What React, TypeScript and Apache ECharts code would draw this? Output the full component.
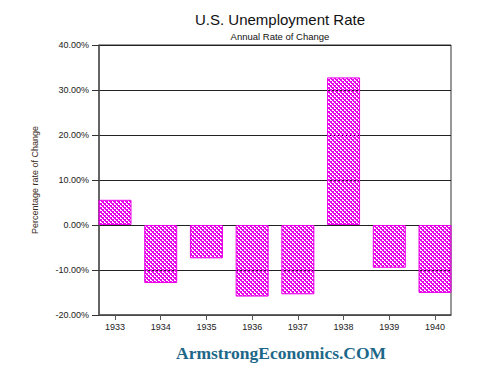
import React, { useEffect, useRef } from "react";
import * as echarts from "echarts";

const years = [1933, 1934, 1935, 1936, 1937, 1938, 1939, 1940];
const changes = [5.6, -12.9, -7.4, -15.9, -15.4, 32.8, -9.5, -15.1];
const yTicks = { min: -20, max: 40, interval: 10 };
const titleText = "U.S. Unemployment Rate";
const subtitleText = "Annual Rate of Change";
const yAxisName = "Percentage rate of Change";
const watermark = "ArmstrongEconomics.COM";

function makeHatch(): string {
  const c = document.createElement("canvas");
  c.width = 4;
  c.height = 4;
  const ctx = c.getContext("2d")!;
  ctx.clearRect(0, 0, 4, 4);
  ctx.fillStyle = "#e800e8";
  for (let x = 0; x < 4; x++) {
    for (let y = 0; y < 4; y++) {
      const d = (((x - y) % 4) + 4) % 4;
      const s = (x + y) % 4;
      if (d < 2 || s === 0) ctx.fillRect(x, y, 1, 1);
    }
  }
  return c.toDataURL();
}

export default function App() {
  const ref = useRef<HTMLDivElement>(null);
  useEffect(() => {
    if (!ref.current) return;
    const chart = echarts.init(ref.current, undefined, { renderer: "svg" });
    const hatch = makeHatch();
    chart.setOption({
      animation: false,
      backgroundColor: "#ffffff",
      title: [
        {
          text: titleText,
          left: 275,
          top: 7,
          textAlign: "center",
          textStyle: { fontFamily: "Liberation Sans", fontSize: 15, fontWeight: "normal", color: "#111" },
        },
        {
          text: subtitleText,
          left: 275,
          top: 26,
          textAlign: "center",
          textStyle: { fontFamily: "Liberation Sans", fontSize: 9.5, fontWeight: "normal", color: "#111" },
        },
      ],
      grid: {
        left: 99,
        top: 45,
        right: 43,
        bottom: 67,
        show: true,
        borderColor: "#333",
        borderWidth: 1,
        backgroundColor: "transparent",
      },
      xAxis: {
        type: "value",
        min: 1932.65,
        max: 1940.35,
        splitLine: { show: false },
        axisLine: { show: true, onZero: false, lineStyle: { color: "#555", width: 1.5 } },
        axisTick: { show: true, length: 5, customValues: years, lineStyle: { color: "#555" } },
        axisLabel: {
          customValues: years,
          formatter: (v: number) => String(Math.round(v)),
          fontFamily: "Liberation Sans",
          fontSize: 9,
          color: "#222",
          margin: 7,
        },
      },
      yAxis: {
        type: "value",
        min: yTicks.min,
        max: yTicks.max,
        interval: yTicks.interval,
        name: yAxisName,
        nameLocation: "middle",
        nameGap: 60,
        nameTextStyle: { fontFamily: "Liberation Sans", fontSize: 9, color: "#3a2a1a" },
        axisLine: { show: true, lineStyle: { color: "#555", width: 1.5 } },
        axisTick: { show: true, length: 7, lineStyle: { color: "#333" } },
        axisLabel: {
          formatter: (v: number) => v.toFixed(2) + "%",
          fontFamily: "Liberation Sans",
          fontSize: 9,
          color: "#222",
          margin: 10,
        },
        splitLine: { show: true, lineStyle: { color: "#222", width: 1 } },
      },
      series: [
        {
          type: "bar",
          data: years.map((y, i) => [y, changes[i]]),
          barWidth: 33,
          itemStyle: {
            color: { image: hatch, repeat: "repeat", imageWidth: 4, imageHeight: 4 } as any,
            borderColor: "#e800e8",
            borderWidth: 1,
          },
        },
      ],
      graphic: [
        {
          type: "text",
          left: 176,
          top: 344,
          style: {
            text: watermark,
            fontFamily: "Liberation Serif",
            fontWeight: "bold",
            fontSize: 17.5,
            fill: "#1d6788",
          },
        },
      ],
    });
    return () => chart.dispose();
  }, []);
  return <div ref={ref} style={{ width: 494, height: 382, margin: -8 }} />;
}
